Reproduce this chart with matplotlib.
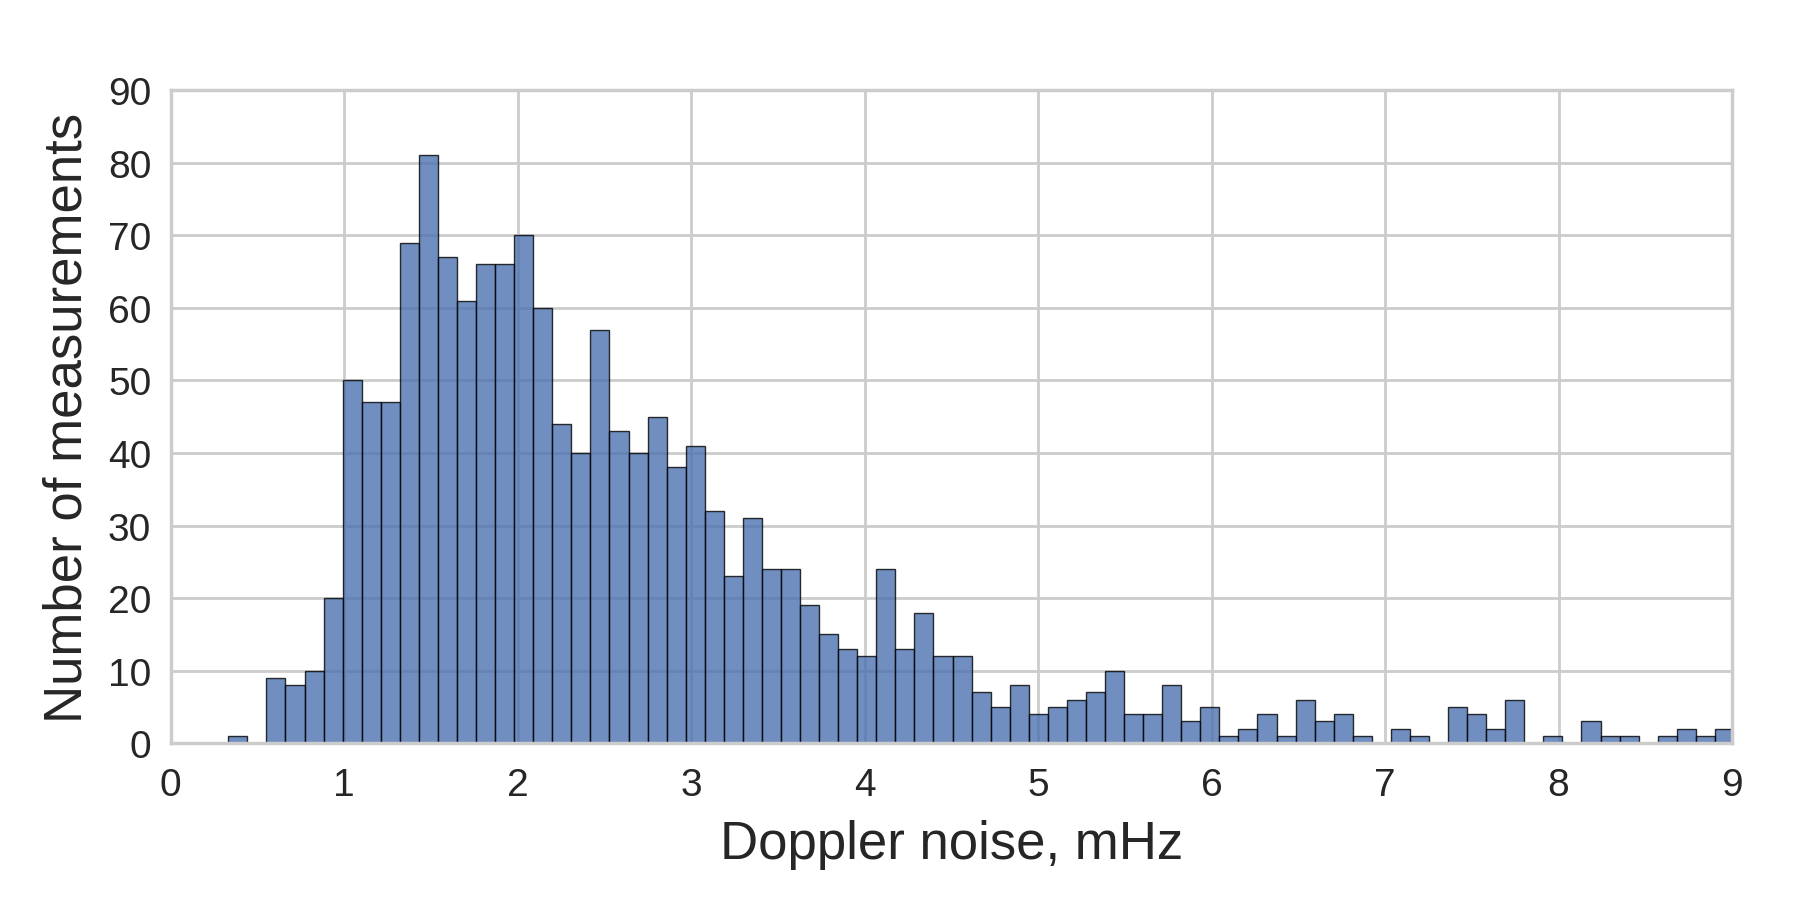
import matplotlib
matplotlib.use("Agg")
import matplotlib.pyplot as plt
import numpy as np
import seaborn as sns

# Histogram data
bin_start = 0.332
bin_width = 0.10986
counts = [1, 0, 9, 8, 10, 20, 50, 47, 47, 69, 81, 67, 61, 66, 66, 70, 60, 44, 40, 57,
          43, 40, 45, 38, 41, 32, 23, 31, 24, 24, 19, 15, 13, 12, 24, 13, 18, 12, 12, 7,
          5, 8, 4, 5, 6, 7, 10, 4, 4, 8, 3, 5, 1, 2, 4, 1, 6, 3, 4, 1,
          0, 2, 1, 0, 5, 4, 2, 6, 0, 1, 0, 3, 1, 1, 0, 1, 2, 1, 2]
x_ticks = [0, 1, 2, 3, 4, 5, 6, 7, 8, 9]
y_ticks = [0, 10, 20, 30, 40, 50, 60, 70, 80, 90]
x_label = "Doppler noise, mHz"
y_label = "Number of measurements"

sns.set_style("whitegrid")
plt.rcParams['font.family'] = ['Liberation Sans', 'DejaVu Sans']

fig = plt.figure(figsize=(17.93, 9.12), dpi=100)
ax = fig.add_axes([0.0952, 0.184, 0.8708, 0.716])

edges = bin_start + bin_width * np.arange(len(counts) + 1)
centers = (edges[:-1] + edges[1:]) / 2
ax.hist(centers, bins=edges, weights=counts, color="#4C72B0", alpha=0.8,
        edgecolor="black", linewidth=1.0)

ax.set_xlim(0, 9)
ax.set_ylim(0, 90)
ax.set_xticks(x_ticks)
ax.set_yticks(y_ticks)
ax.tick_params(axis='both', labelsize=28, colors='#262626', length=0)
ax.tick_params(axis='x', pad=17)
ax.tick_params(axis='y', pad=14)
ax.set_xlabel(x_label, fontsize=38, color='#262626', labelpad=12)
ax.set_ylabel(y_label, fontsize=38, color='#262626', labelpad=11)
ax.grid(True, color='#cccccc', linewidth=2)
ax.set_axisbelow(True)
for s in ax.spines.values():
    s.set_color('#cccccc')
    s.set_linewidth(2.5)

fig.savefig("out.png", dpi=100, facecolor='white')
